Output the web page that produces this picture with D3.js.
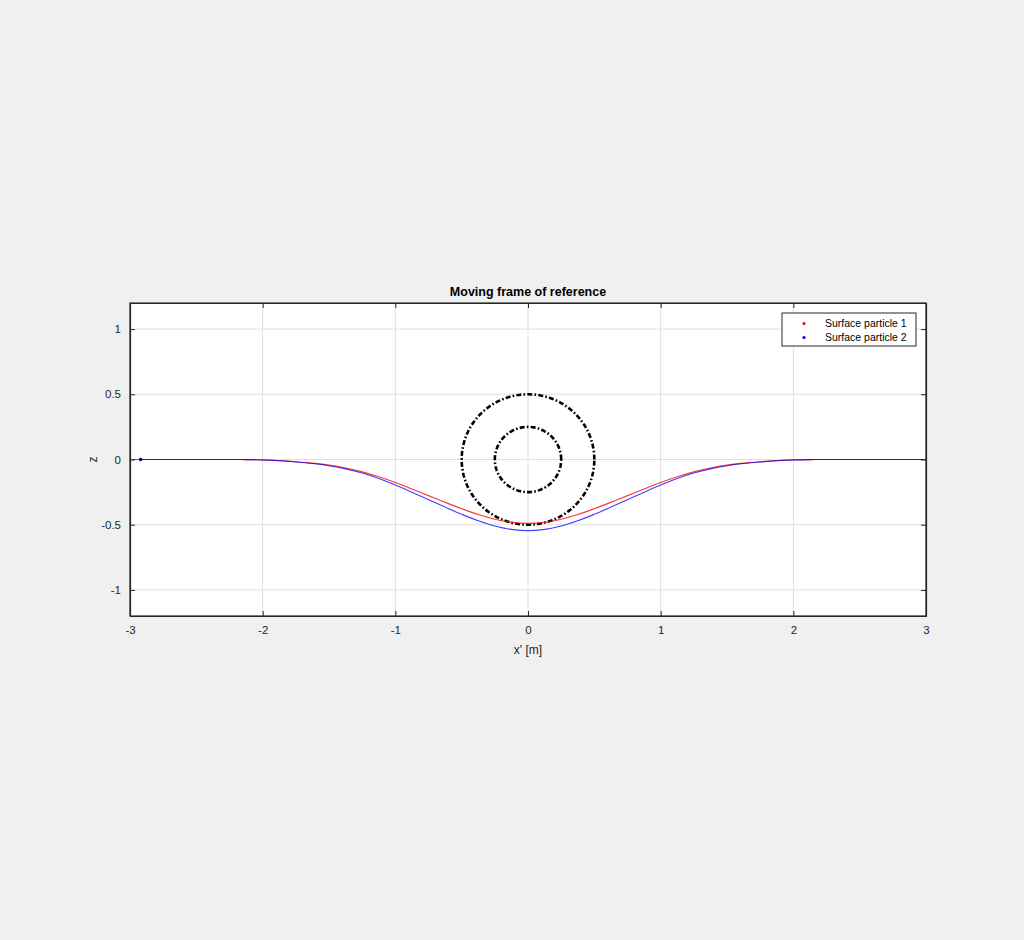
<!DOCTYPE html>
<html>
<head>
<meta charset="utf-8">
<script src="https://cdn.jsdelivr.net/npm/d3@7"></script>
<style>
  html, body { margin: 0; padding: 0; background: #f0f0f0; }
  svg { display: block; font-family: "Liberation Sans", Arial, sans-serif; }
</style>
</head>
<body>
<svg id="chart" width="1024" height="940"></svg>
<script>
// ---- data ----
const xTicks = [-3, -2, -1, 0, 1, 2, 3];
const yTicks = [-1, -0.5, 0, 0.5, 1];
const xPos = [-3, -2.5, -2.25, -2.125, -2, -1.875, -1.75, -1.625, -1.5, -1.375, -1.25, -1.125, -1, -0.875, -0.75, -0.625, -0.5, -0.375, -0.25, -0.125,
              0, 0.125, 0.25, 0.375, 0.5, 0.625, 0.75, 0.875, 1, 1.125, 1.25, 1.375, 1.5, 1.625, 1.75, 1.875, 2, 2.125, 2.25, 2.5, 3];
const particle1 = [0, 0, 0, -0.001, -0.003, -0.009, -0.017, -0.028, -0.043, -0.065, -0.095, -0.133, -0.177, -0.226, -0.277, -0.328, -0.377, -0.422, -0.458, -0.482,
                   -0.49, -0.482, -0.458, -0.422, -0.377, -0.328, -0.277, -0.226, -0.177, -0.133, -0.095, -0.065, -0.043, -0.028, -0.017, -0.009, -0.003, -0.001, 0, 0, 0];
const xPos2 = [-2.92, -2.5, -2.25, -2.125, -2, -1.875, -1.75, -1.625, -1.5, -1.375, -1.25, -1.125, -1, -0.875, -0.75, -0.625, -0.5, -0.375, -0.25, -0.125,
               0, 0.125, 0.25, 0.375, 0.5, 0.625, 0.75, 0.875, 1, 1.125, 1.25, 1.375, 1.5, 1.625, 1.75, 1.875, 2, 2.125, 2.25, 2.5, 3];
const particle2 = [0, 0, 0, -0.001, -0.004, -0.01, -0.019, -0.031, -0.048, -0.072, -0.104, -0.146, -0.196, -0.251, -0.308, -0.365, -0.42, -0.47, -0.51, -0.536,
                   -0.545, -0.536, -0.51, -0.47, -0.42, -0.365, -0.308, -0.251, -0.196, -0.146, -0.104, -0.072, -0.048, -0.031, -0.019, -0.01, -0.004, -0.001, 0, 0, 0];
const circleRadii = [0.5, 0.25];
const circleCenter = [0, 0];
const seriesNames = ["Surface particle 1", "Surface particle 2"];
const seriesColors = ["#ff0000", "#0000ff"];

// ---- layout ----
const svg = d3.select("#chart");
const L = 130, R = 926, T = 303, B = 616;
const x = d3.scaleLinear().domain([-3, 3]).range([L, R]);
const y = d3.scaleLinear().domain([-1.2, 1.2]).range([B, T]);
const axisColor = "#262626";
const fmt = v => String(v);

// plot background
svg.append("rect").attr("x", L).attr("y", T).attr("width", R - L).attr("height", B - T).attr("fill", "#ffffff");

// grid
const grid = svg.append("g").attr("stroke", "#dfdfdf").attr("stroke-width", 1);
xTicks.forEach(v => grid.append("line").attr("x1", x(v)).attr("x2", x(v)).attr("y1", T).attr("y2", B));
yTicks.forEach(v => grid.append("line").attr("x1", L).attr("x2", R).attr("y1", y(v)).attr("y2", y(v)));

// clip
svg.append("clipPath").attr("id", "clip").append("rect").attr("x", L).attr("y", T).attr("width", R - L).attr("height", B - T);
const plot = svg.append("g").attr("clip-path", "url(#clip)");

// circles (dash-dot)
circleRadii.forEach(r => {
  const pts = d3.range(0, 361, 2).map(a => [circleCenter[0] + r * Math.cos(a * Math.PI / 180), circleCenter[1] + r * Math.sin(a * Math.PI / 180)]);
  plot.append("path")
    .attr("d", d3.line().x(d => x(d[0])).y(d => y(d[1]))(pts))
    .attr("fill", "none").attr("stroke", "#000").attr("stroke-width", 2.6)
    .attr("stroke-dasharray", "5,2.2,1.6,2.2");
});

// lines
const line = d3.line().curve(d3.curveCatmullRom.alpha(0.5));
const d1 = xPos.map((v, i) => [x(v), y(particle1[i])]);
const d2 = xPos2.map((v, i) => [x(v), y(particle2[i])]);
plot.append("path").attr("d", line(d1)).attr("fill", "none").attr("stroke", seriesColors[0]).attr("stroke-width", 1.1).attr("opacity", 0.8);
plot.append("path").attr("d", line(d2)).attr("fill", "none").attr("stroke", seriesColors[1]).attr("stroke-width", 1.1).attr("opacity", 0.75);
// particle marker
plot.append("circle").attr("cx", x(xPos2[0])).attr("cy", y(particle2[0])).attr("r", 1.8).attr("fill", "#000080");

// axes box
const axes = svg.append("g");
const xAxB = d3.axisBottom(x).tickValues(xTicks).tickSizeInner(-5).tickSizeOuter(0).tickPadding(10).tickFormat(fmt);
const gxb = axes.append("g").attr("transform", `translate(0,${B})`).call(xAxB);
const xAxT = d3.axisTop(x).tickValues(xTicks).tickSizeInner(-5).tickSizeOuter(0).tickFormat("");
const gxt = axes.append("g").attr("transform", `translate(0,${T})`).call(xAxT);
const yAxL = d3.axisLeft(y).tickValues(yTicks).tickSizeInner(-5).tickSizeOuter(0).tickPadding(9).tickFormat(fmt);
const gyl = axes.append("g").attr("transform", `translate(${L},0)`).call(yAxL);
const yAxR = d3.axisRight(y).tickValues(yTicks).tickSizeInner(-5).tickSizeOuter(0).tickFormat("");
const gyr = axes.append("g").attr("transform", `translate(${R},0)`).call(yAxR);
[gxb, gxt, gyl, gyr].forEach(g => {
  g.select(".domain").attr("stroke", axisColor).attr("stroke-width", 1.2);
  g.selectAll(".tick line").attr("stroke", axisColor);
  g.selectAll("text").attr("fill", axisColor).attr("font-size", 11.5).attr("font-family", "Liberation Sans, Arial, sans-serif");
});
svg.append("rect").attr("x", L).attr("y", T).attr("width", R - L).attr("height", B - T)
  .attr("fill", "none").attr("stroke", axisColor).attr("stroke-width", 1.2);

// labels
svg.append("text").attr("x", (L + R) / 2).attr("y", 296).attr("text-anchor", "middle")
  .attr("font-size", 12.5).attr("font-weight", "bold").attr("fill", "#000").text("Moving frame of reference");
svg.append("text").attr("x", (L + R) / 2).attr("y", 654).attr("text-anchor", "middle")
  .attr("font-size", 12).attr("fill", axisColor).text("x' [m]");
svg.append("text").attr("transform", `translate(97,${y(0)}) rotate(-90)`).attr("text-anchor", "middle")
  .attr("font-size", 12).attr("fill", axisColor).text("z");

// legend
const lg = svg.append("g");
lg.append("rect").attr("x", 782).attr("y", 313).attr("width", 134).attr("height", 33)
  .attr("fill", "#fff").attr("stroke", axisColor).attr("stroke-width", 1);
seriesNames.forEach((n, i) => {
  const yy = 323.5 + i * 14;
  lg.append("circle").attr("cx", 804).attr("cy", yy).attr("r", 1.6).attr("fill", seriesColors[i]);
  lg.append("text").attr("x", 825).attr("y", yy + 3.8).attr("font-size", 10.5).attr("fill", "#000").text(n);
});
</script>
</body>
</html>
